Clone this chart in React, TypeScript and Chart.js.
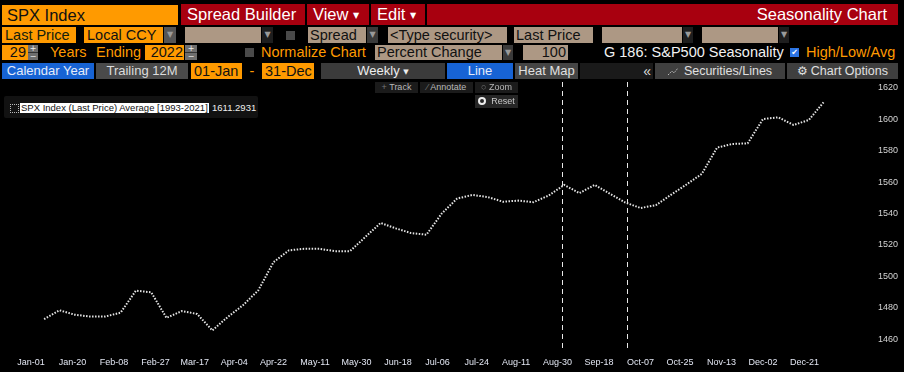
import React, { useEffect, useRef } from "react";
import { Chart, registerables } from "chart.js";

Chart.register(...registerables);

// ---- data ----
const weekDays = [
  6, 13, 20, 27, 34, 41, 48, 55, 62, 69, 76, 83, 90, 97, 104, 111, 118, 125, 132, 139,
  146, 153, 160, 167, 174, 181, 188, 195, 202, 209, 216, 223, 230, 237, 244, 251, 258, 265, 272, 279,
  286, 293, 300, 307, 314, 321, 328, 335, 342, 349, 356, 363,
];
const avgValues = [
  1472.7, 1478.3, 1475.5, 1474.3, 1474.3, 1476.8, 1490.8, 1489.8, 1473.5, 1477.8,
  1476.0, 1465.5, 1474.0, 1481.5, 1491.0, 1509.0, 1516.5, 1517.5, 1517.5, 1516.0,
  1516.0, 1525.0, 1534.0, 1530.5, 1527.5, 1526.5, 1540.0, 1549.5, 1551.8, 1550.5,
  1547.5, 1548.2, 1547.2, 1551.5, 1558.2, 1553.0, 1558.2, 1552.5, 1547.0, 1543.5,
  1545.3, 1552.0, 1558.5, 1565.2, 1582.0, 1584.3, 1584.7, 1600.2, 1601.3, 1596.4,
  1599.6, 1611.29,
];
const xTickDays = [0, 19, 38, 57, 75, 93, 111, 130, 149, 168, 186, 204, 222, 241, 260, 279, 297, 316, 335, 354];
const xTickLabels = [
  "Jan-01", "Jan-20", "Feb-08", "Feb-27", "Mar-17", "Apr-04", "Apr-22", "May-11", "May-30", "Jun-18",
  "Jul-06", "Jul-24", "Aug-11", "Aug-30", "Sep-18", "Oct-07", "Oct-25", "Nov-13", "Dec-02", "Dec-21",
];
const yTicks = [1460, 1480, 1500, 1520, 1540, 1560, 1580, 1600, 1620];
const markerDays = [243, 273];

const X_MIN = -14.19;
const X_MAX = 378.5;
const Y_MIN = 1453.0;
const Y_MAX = 1623.8;

// ---- colours ----
const ORANGE = "#ff9a00";
const RED = "#a8000f";
const TAN = "#ad9884";
const BLUE = "#1763d4";
const FONT = '"Liberation Sans", Arial, sans-serif';

type BoxProps = {
  x: number; y: number; w: number; h: number;
  bg?: string; color?: string; size?: number;
  align?: "left" | "center" | "right"; pad?: number;
  children?: React.ReactNode; radius?: number; family?: string;
};

function Box({ x, y, w, h, bg = "transparent", color = "#111", size = 14.5, align = "left", pad = 3, children, radius = 0, family }: BoxProps) {
  return (
    <div
      style={{
        position: "absolute", left: x, top: y, width: w, height: h, background: bg, color,
        fontSize: size, lineHeight: h + "px", textAlign: align, padding: `0 ${pad}px`,
        boxSizing: "border-box", whiteSpace: "nowrap", overflow: "hidden", borderRadius: radius,
        fontFamily: family || FONT,
      }}
    >
      {children}
    </div>
  );
}

function Arrow({ x, y, w, h, bg }: { x: number; y: number; w: number; h: number; bg: string }) {
  return <Box x={x} y={y} w={w} h={h} bg={bg} color="#9a9a9a" size={8} align="center" pad={0} family='"DejaVu Sans", sans-serif'>▼</Box>;
}

function Check({ x, y, on }: { x: number; y: number; on?: boolean }) {
  return (
    <div style={{ position: "absolute", left: x, top: y, width: 9, height: 9, background: on ? "#2b74e4" : "#4a4a4a", color: "#fff", fontSize: 8, lineHeight: "9px", textAlign: "center", fontFamily: '"DejaVu Sans", sans-serif' }}>
      {on ? "✔" : ""}
    </div>
  );
}

function Spinner({ x, y, w, h }: { x: number; y: number; w: number; h: number }) {
  return (
    <div style={{ position: "absolute", left: x, top: y, width: w, height: h, background: "#6e6e6e", color: "#eee", fontSize: 8, fontFamily: '"DejaVu Sans", sans-serif', textAlign: "center" }}>
      <div style={{ height: h / 2, lineHeight: h / 2 + "px", borderBottom: "1px solid #333", boxSizing: "border-box" }}>+</div>
      <div style={{ height: h / 2, lineHeight: h / 2 + "px" }}>−</div>
    </div>
  );
}

const markerPlugin = {
  id: "markers",
  beforeDatasetsDraw(chart: any) {
    const { ctx, chartArea, scales } = chart;
    const xs = scales.x;
    ctx.save();
    ctx.strokeStyle = "#e8e8e8";
    ctx.lineWidth = 1;
    ctx.setLineDash([5, 4]);
    markerDays.forEach((d) => {
      const px = Math.round(xs.getPixelForValue(d)) + 0.5;
      ctx.beginPath();
      ctx.moveTo(px, chartArea.top);
      ctx.lineTo(px, chartArea.bottom - 2);
      ctx.stroke();
    });
    ctx.restore();
  },
};

function SeasonChart() {
  const ref = useRef<HTMLCanvasElement | null>(null);
  useEffect(() => {
    if (!ref.current) return;
    const chart = new Chart(ref.current, {
      type: "line",
      data: {
        datasets: [
          {
            data: weekDays.map((d, i) => ({ x: d, y: avgValues[i] })),
            borderColor: "#e4e4e4",
            borderWidth: 2,
            borderDash: [1.5, 1.5],
            pointRadius: 0,
            tension: 0,
            fill: false,
          },
        ],
      },
      options: {
        responsive: false,
        animation: false,
        devicePixelRatio: 1,
        layout: { padding: 0 },
        plugins: { legend: { display: false }, tooltip: { enabled: false } },
        scales: {
          x: {
            type: "linear",
            min: X_MIN,
            max: X_MAX,
            grid: { display: false, drawTicks: false },
            border: { display: false },
            afterBuildTicks: (s: any) => { s.ticks = xTickDays.map((v) => ({ value: v })); },
            afterFit: (s: any) => { s.height = 22; s.paddingLeft = 0; s.paddingRight = 0; },
            ticks: {
              autoSkip: false, maxRotation: 0, minRotation: 0, padding: 7, color: "#e2e6f2",
              font: { family: "Liberation Sans", size: 9 },
              callback: (v: any) => { const i = xTickDays.indexOf(Number(v)); return i >= 0 ? xTickLabels[i] : ""; },
            },
          },
          y: {
            type: "linear",
            position: "right",
            min: Y_MIN,
            max: Y_MAX,
            grid: { display: false, drawTicks: false },
            border: { display: false },
            afterBuildTicks: (s: any) => { s.ticks = yTicks.map((v) => ({ value: v })); },
            afterFit: (s: any) => { s.width = 46; s.paddingTop = 0; s.paddingBottom = 0; },
            ticks: {
              padding: 20, color: "#d4d4d4", font: { family: "Liberation Sans", size: 9 },
              callback: (v: any) => String(v),
            },
          },
        },
      } as any,
      plugins: [markerPlugin],
    });
    return () => chart.destroy();
  }, []);
  return <canvas ref={ref} width={904} height={290} style={{ position: "absolute", left: 0, top: 82, width: 904, height: 290 }} />;
}

export default function App() {
  return (
    <div style={{ position: "fixed", left: 0, top: 0, width: 904, height: 372, background: "#000", overflow: "hidden", fontFamily: FONT }}>
      {/* Row 1 */}
      <Box x={2} y={5} w={176} h={20} bg={ORANGE} color="#111" size={16.5} pad={5}>SPX Index</Box>
      <Box x={181} y={4} w={124} h={21} bg={RED} color="#fff" size={16.5} pad={6}>Spread Builder</Box>
      <Box x={307} y={4} w={62} h={21} bg={RED} color="#fff" size={16.5} pad={6}>View <span style={{ fontSize: 8, fontFamily: '"DejaVu Sans"', verticalAlign: "middle" }}>▼</span></Box>
      <Box x={371} y={4} w={54} h={21} bg={RED} color="#fff" size={16.5} pad={6}>Edit <span style={{ fontSize: 8, fontFamily: '"DejaVu Sans"', verticalAlign: "middle" }}>▼</span></Box>
      <Box x={427} y={4} w={471} h={21} bg={RED} color="#fff" size={16.5} pad={11} align="right">Seasonality Chart</Box>

      {/* Row 2 */}
      <Box x={2} y={27} w={74} h={16} bg={ORANGE} color="#14200c" pad={3}>Last Price</Box>
      <Box x={84} y={27} w={79} h={16} bg={ORANGE} color="#111" pad={3}>Local CCY</Box>
      <Arrow x={164} y={27} w={12} h={16} bg="#555" />
      <Box x={185} y={27} w={76} h={16} bg={TAN} />
      <Arrow x={262} y={27} w={11} h={16} bg="#1e1e1e" />
      <Check x={286} y={31} />
      <Box x={308} y={27} w={58} h={16} bg={TAN} color="#111" pad={2}>Spread</Box>
      <Arrow x={367} y={27} w={11} h={16} bg="#3a3a3a" />
      <Box x={388} y={27} w={119} h={16} bg={TAN} color="#111" pad={2}>&lt;Type security&gt;</Box>
      <Box x={514} y={27} w={79} h={16} bg={TAN} color="#111" pad={2}>Last Price</Box>
      <Box x={602} y={27} w={80} h={16} bg={TAN} />
      <Arrow x={683} y={27} w={10} h={16} bg="#1e1e1e" />
      <Box x={702} y={27} w={76} h={16} bg={TAN} />
      <Arrow x={779} y={27} w={10} h={16} bg="#1e1e1e" />

      {/* Row 3 */}
      <Box x={2} y={45} w={26} h={15} bg={ORANGE} color="#111" align="right" pad={2}>29</Box>
      <Spinner x={28} y={45} w={10} h={15} />
      <Box x={47} y={45} w={46} h={15} color={ORANGE}>Years</Box>
      <Box x={93} y={45} w={50} h={15} color={ORANGE}>Ending</Box>
      <Box x={145} y={45} w={39} h={15} bg={ORANGE} color="#111" align="right" pad={1}>2022</Box>
      <Spinner x={185} y={45} w={12} h={15} />
      <Check x={245} y={48} />
      <Box x={258} y={45} w={112} h={15} color={ORANGE}>Normalize Chart</Box>
      <Box x={375} y={45} w={127} h={15} bg={TAN} color="#111" pad={2}>Percent Change</Box>
      <Arrow x={503} y={45} w={10} h={15} bg="#3a3a3a" />
      <Box x={523} y={45} w={45} h={15} bg={TAN} color="#111" align="right" pad={2}>100</Box>
      <Box x={601} y={45} w={186} h={15} color="#f2f2f2">G 186: S&amp;P500 Seasonality</Box>
      <Check x={790} y={48} on />
      <Box x={803} y={45} w={100} h={15} color={ORANGE}>High/Low/Avg</Box>

      {/* Row 4 */}
      <Box x={2} y={63} w={92} h={16} bg={BLUE} color="#e6ecfa" size={13} align="center">Calendar Year</Box>
      <Box x={96} y={63} w={92} h={16} bg="#4a4a4a" color="#ddd" size={13} align="center">Trailing 12M</Box>
      <Box x={191} y={63} w={51} h={16} bg={ORANGE} color="#111" pad={3}>01-Jan</Box>
      <Box x={242} y={63} w={20} h={16} color={ORANGE} align="center" pad={0}>-</Box>
      <Box x={262} y={63} w={52} h={16} bg={ORANGE} color="#111" pad={3}>31-Dec</Box>
      <Box x={321} y={63} w={124} h={16} bg="#3b3b3b" color="#eee" size={13} align="center">Weekly <span style={{ fontSize: 7, fontFamily: '"DejaVu Sans"', verticalAlign: "middle" }}>▼</span></Box>
      <Box x={447} y={63} w={66} h={16} bg={BLUE} color="#e6ecfa" size={13} align="center">Line</Box>
      <Box x={515} y={63} w={63} h={16} bg="#454545" color="#e0e0e0" size={13} align="center">Heat Map</Box>
      <Box x={580} y={63} w={73} h={16} bg="#1a1a1a" color="#ddd" size={14} align="right" pad={2}>«</Box>
      <Box x={655} y={63} w={130} h={16} bg="#3f3f3f" color="#e0e0e0" size={12.5} align="center">
        <svg width="11" height="9" style={{ marginRight: 5, verticalAlign: "-1px" }}><polyline points="0,8 4,4 6,6 10,1" fill="none" stroke="#bbb" strokeWidth="1" strokeDasharray="1.5,1" /></svg>
        Securities/Lines
      </Box>
      <Box x={787} y={63} w={111} h={16} bg="#3f3f3f" color="#e0e0e0" size={12.5} align="center">
        <span style={{ fontFamily: '"DejaVu Sans"', fontSize: 12, marginRight: 3 }}>⚙</span>Chart Options
      </Box>

      <SeasonChart />

      {/* chart overlays */}
      <Box x={375} y={82} w={43} h={11} bg="#1b1b1b" color="#b8b8b8" size={9} align="center" pad={0}><span style={{ color: "#777" }}>+</span> Track</Box>
      <Box x={420} y={82} w={53} h={11} bg="#1b1b1b" color="#b8b8b8" size={9} align="center" pad={0}><span style={{ color: "#777" }}>⁄</span> Annotate</Box>
      <Box x={475} y={82} w={43} h={11} bg="#1b1b1b" color="#b8b8b8" size={9} align="center" pad={0}><span style={{ color: "#777" }}>○</span> Zoom</Box>
      <Box x={475} y={95} w={43} h={13} bg="#262626" color="#c8c8c8" size={9} align="center" pad={0}>
        <span style={{ display: "inline-block", width: 4, height: 4, border: "2px solid #eee", borderRadius: 5, verticalAlign: "-1px", marginRight: 5 }} />Reset
      </Box>

      {/* legend */}
      <div style={{ position: "absolute", left: 4, top: 96, width: 254, height: 22, background: "#121212", borderRadius: 2 }} />
      <div style={{ position: "absolute", left: 10, top: 104, width: 7, height: 7, border: "1px dotted #bbb" }} />
      <Box x={20} y={103} w={189} h={10} bg="#fff" color="#111" size={9.5} pad={1}>SPX Index (Last Price) Average [1993-2021]</Box>
      <Box x={211} y={103} w={46} h={10} color="#f0f0f0" size={9.5} pad={1}>1611.2931</Box>
    </div>
  );
}
